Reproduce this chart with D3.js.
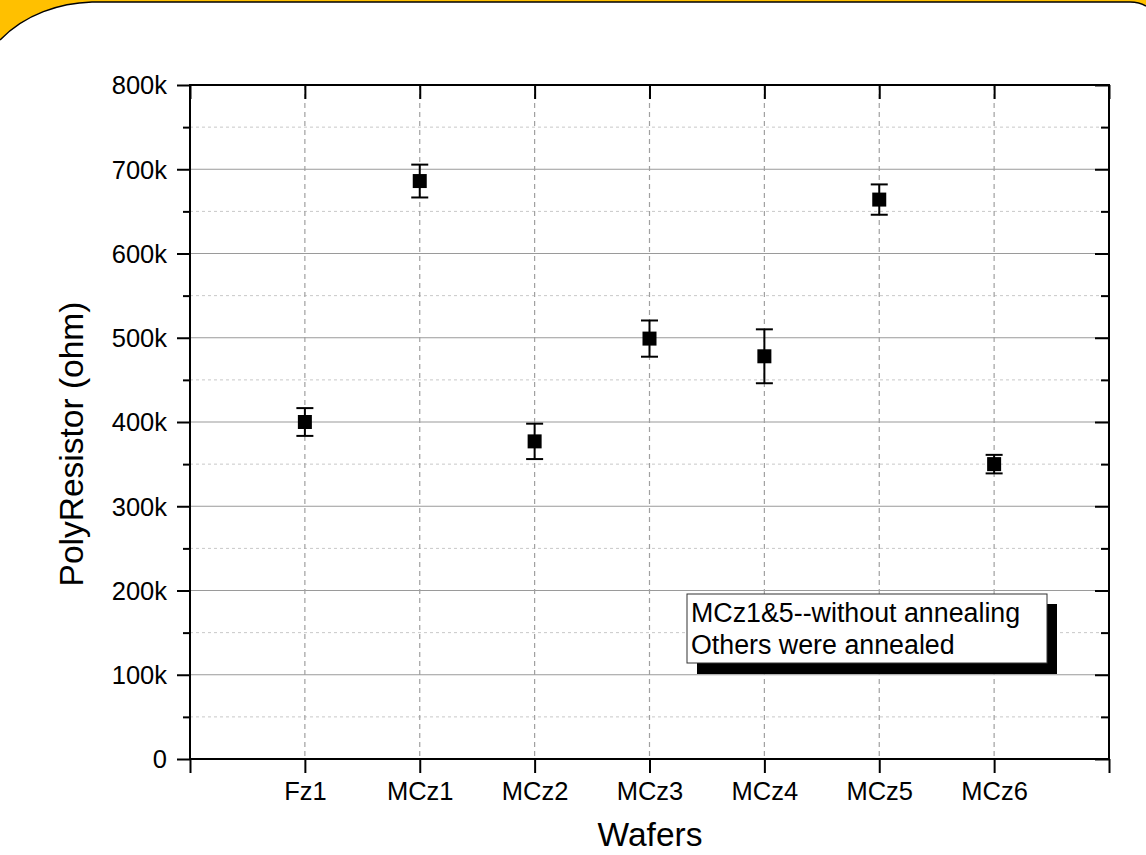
<!DOCTYPE html>
<html>
<head>
<meta charset="utf-8">
<script src="https://cdn.jsdelivr.net/npm/d3@7"></script>
<style>
html,body{margin:0;padding:0;background:#fff;}
svg{display:block;}
text{font-family:"Liberation Sans",Arial,sans-serif;fill:#000;}
</style>
</head>
<body>
<svg id="chart" width="1146" height="855"></svg>
<script>
const categories = ["Fz1","MCz1","MCz2","MCz3","MCz4","MCz5","MCz6"];
const values = [400000, 686000, 377000, 499000, 478000, 664000, 350000];
const errors = [16500, 19500, 21000, 21500, 32000, 18000, 11000];
const yMajorTicks = [0,100000,200000,300000,400000,500000,600000,700000,800000];
const yMinorTicks = [50000,150000,250000,350000,450000,550000,650000,750000];
const legendLines = ["MCz1&5--without annealing","Others were annealed"];

const svg = d3.select("#chart");
const L=190, R=1109, T=85, B=759;
const x = d3.scaleLinear().domain([0,8]).range([L,R]);
const y = d3.scaleLinear().domain([0,800000]).range([B,T]);
const catIdx = categories.map((c,i)=>i+1);

// frame decoration
svg.append("path")
  .attr("d","M0,0 L1146,0 L1146,6 C1141,3 1136,2 1130,2 L92,2 C60,3 25,14 0,40 Z")
  .attr("fill","#FFC000");
svg.append("path")
  .attr("d","M0,40 C25,14 60,3 92,2 L1130,2 C1136,2 1141,3 1146,6")
  .attr("fill","none").attr("stroke","#000").attr("stroke-width",1.5);

// grids
const g = svg.append("g");
g.selectAll(".minor").data(yMinorTicks).join("line")
  .attr("x1",L).attr("x2",R).attr("y1",d=>y(d)).attr("y2",d=>y(d))
  .attr("stroke","#c8c8c8").attr("stroke-width",1).attr("stroke-dasharray","3,3");
g.selectAll(".major").data(yMajorTicks.slice(1,-1)).join("line")
  .attr("x1",L).attr("x2",R).attr("y1",d=>y(d)).attr("y2",d=>y(d))
  .attr("stroke","#9a9a9a").attr("stroke-width",1.2);
g.selectAll(".vgrid").data(catIdx).join("line")
  .attr("x1",d=>x(d)).attr("x2",d=>x(d)).attr("y1",T).attr("y2",B)
  .attr("stroke","#a0a0a0").attr("stroke-width",1.2).attr("stroke-dasharray","5,4");

// axes
function styleAxis(sel){
  sel.select(".domain").remove();
  sel.selectAll(".tick line").attr("stroke","#000").attr("stroke-width",2);
  sel.selectAll(".tick text").attr("font-size","25.5px").attr("font-family","'Liberation Sans',Arial,sans-serif");
}
const yLeft = svg.append("g").attr("transform",`translate(${L},0)`)
  .call(d3.axisLeft(y).tickValues(yMajorTicks).tickSize(13).tickPadding(10)
    .tickFormat(d=>d===0?"0":(d/1000)+"k"));
styleAxis(yLeft);
yLeft.selectAll(".tick text").attr("dy","0.35em");
const yLeftMinor = svg.append("g").attr("transform",`translate(${L},0)`)
  .call(d3.axisLeft(y).tickValues(yMinorTicks).tickSize(7).tickFormat(""));
styleAxis(yLeftMinor);
const yRight = svg.append("g").attr("transform",`translate(${R},0)`)
  .call(d3.axisRight(y).tickValues(yMajorTicks).tickSize(-14).tickFormat(""));
styleAxis(yRight);
const yRightMinor = svg.append("g").attr("transform",`translate(${R},0)`)
  .call(d3.axisRight(y).tickValues(yMinorTicks).tickSize(-8).tickFormat(""));
styleAxis(yRightMinor);
const xBottom = svg.append("g").attr("transform",`translate(0,${B})`)
  .call(d3.axisBottom(x).tickValues(d3.range(0,9)).tickSize(14).tickPadding(9)
    .tickFormat(d=>categories[d-1]||""));
styleAxis(xBottom);
const xTop = svg.append("g").attr("transform",`translate(0,${T})`)
  .call(d3.axisTop(x).tickValues(d3.range(0,9)).tickSize(-14).tickFormat(""));
styleAxis(xTop);

// frame lines
svg.append("rect").attr("x",L).attr("y",T).attr("width",R-L).attr("height",B-T)
  .attr("fill","none").attr("stroke","#000").attr("stroke-width",2);

// error bars
const eb = svg.append("g").attr("stroke","#000").attr("stroke-width",2);
categories.forEach((c,i)=>{
  const cx = x(i+1);
  eb.append("line").attr("x1",cx).attr("x2",cx)
    .attr("y1",y(values[i]+errors[i])).attr("y2",y(values[i]-errors[i]));
  [values[i]+errors[i], values[i]-errors[i]].forEach(v=>{
    eb.append("line").attr("x1",cx-8.5).attr("x2",cx+8.5).attr("y1",y(v)).attr("y2",y(v));
  });
});
svg.append("g").selectAll("rect").data(values).join("rect")
  .attr("x",(d,i)=>x(i+1)-7).attr("y",d=>y(d)-7)
  .attr("width",14).attr("height",14).attr("fill","#000");

// legend box
const lg = svg.append("g");
lg.append("rect").attr("x",697).attr("y",604).attr("width",360).attr("height",70).attr("fill","#000");
lg.append("rect").attr("x",687).attr("y",594).attr("width",360).attr("height",69)
  .attr("fill","#fff").attr("stroke","#333").attr("stroke-width",1);
lg.selectAll("text").data(legendLines).join("text")
  .attr("x",691).attr("y",(d,i)=>622+i*32).attr("font-size","26.8px").text(d=>d);

// axis titles
svg.append("text").attr("transform","translate(83,444) rotate(-90)")
  .attr("text-anchor","middle").attr("font-size","33.5px").text("PolyResistor (ohm)");
svg.append("text").attr("x",650).attr("y",846).attr("text-anchor","middle")
  .attr("font-size","33.5px").text("Wafers");
</script>
</body>
</html>
